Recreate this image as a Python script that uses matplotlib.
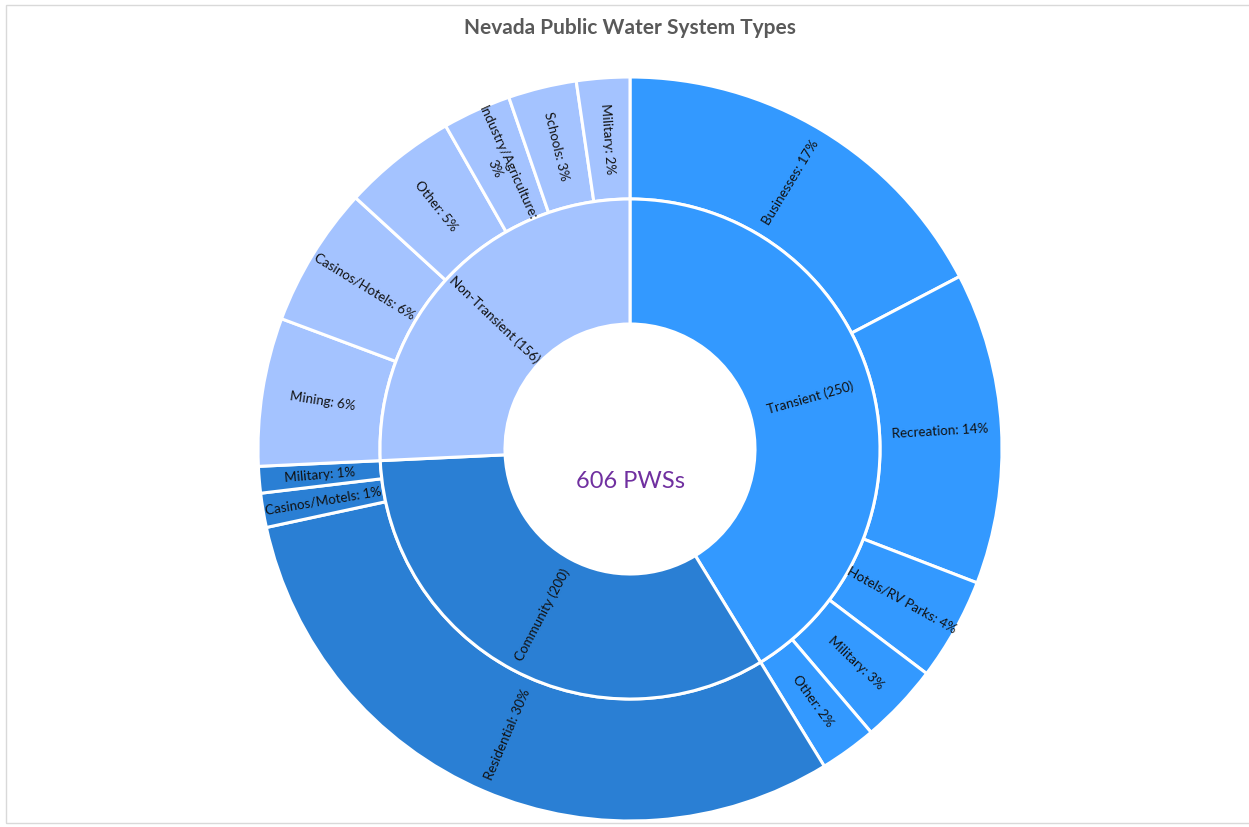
import matplotlib.pyplot as plt
import numpy as np
from matplotlib.patches import Rectangle

plt.rcParams['font.family'] = ['Lato', 'DejaVu Sans']

# Inner ring: system types
parent_names = ['Transient', 'Community', 'Non-Transient']
parent_counts = [250, 200, 156]
parent_colors = ['#3399FF', '#2A7FD4', '#A4C3FF']

# Outer ring: sub categories (clockwise from 12 o'clock)
child_names = [
    ['Businesses', 'Recreation', 'Hotels/RV Parks', 'Military', 'Other'],
    ['Residential', 'Casinos/Motels', 'Military'],
    ['Mining', 'Casinos/Hotels', 'Other', 'Industry/Agriculture', 'Schools', 'Military'],
]
child_counts = [
    [105, 82, 27, 21, 15],
    [184, 9, 7],
    [39, 37, 30, 18, 18, 14],
]

total = sum(parent_counts)


def radial_rotation(theta1, theta2):
    """ Text angle along the radius, kept readable """
    phi = ((theta1 + theta2) / 2.0) % 360
    if 90 < phi <= 270:
        return phi - 180, phi
    if phi > 270:
        return phi - 360, phi
    return phi, phi


def add_ring_labels(ax, wedges, labels, r, fontsize=9.6):
    for w, label in zip(wedges, labels):
        rot, phi = radial_rotation(w.theta1, w.theta2)
        x = r * np.cos(np.radians(phi))
        y = r * np.sin(np.radians(phi))
        ax.text(x, y, label, rotation=rot, rotation_mode='anchor',
                ha='center', va='center', multialignment='center',
                fontsize=fontsize, color='#111111')


fig = plt.figure(figsize=(12.49, 8.27), dpi=100)
fig.patch.set_facecolor('white')

# light frame around the chart area
fig.patches.append(Rectangle((6 / 1249, 1 - 823 / 827), 1.0, 818 / 827,
                             transform=fig.transFigure, fill=False,
                             edgecolor='#d9d9d9', linewidth=1))

R_OUT = 372.0
cx, cy = 630, 449
ax = fig.add_axes([(cx - R_OUT) / 1249, (827 - cy - R_OUT) / 827,
                   2 * R_OUT / 1249, 2 * R_OUT / 827])

r_mid = 250 / R_OUT
r_hole = 125 / R_OUT

flat_counts = [c for group in child_counts for c in group]
flat_colors = [parent_colors[i] for i, group in enumerate(child_counts) for _ in group]
flat_labels = []
for names, counts in zip(child_names, child_counts):
    for n, c in zip(names, counts):
        pct = round(100 * c / total)
        if n == 'Industry/Agriculture':
            flat_labels.append(f"{n}:\n{pct}%")
        else:
            flat_labels.append(f"{n}: {pct}%")

outer, _ = ax.pie(flat_counts, radius=1.0, startangle=90, counterclock=False,
                  colors=flat_colors,
                  wedgeprops=dict(width=1.0 - r_mid, edgecolor='white', linewidth=2.2))
inner, _ = ax.pie(parent_counts, radius=r_mid, startangle=90, counterclock=False,
                  colors=parent_colors,
                  wedgeprops=dict(width=r_mid - r_hole, edgecolor='white', linewidth=2.2))

add_ring_labels(ax, outer, flat_labels, (1.0 + r_mid) / 2)
add_ring_labels(ax, inner, [f"{n} ({c})" for n, c in zip(parent_names, parent_counts)],
                (r_mid + r_hole) / 2)

ax.text(0, -32 / R_OUT, f"{total} PWSs", ha='center', va='center',
        fontsize=17, color='#7030A0')

ax.set_xlim(-1, 1)
ax.set_ylim(-1, 1)
ax.set_aspect('equal')
ax.axis('off')

fig.text(630 / 1249, 1 - 28 / 827, 'Nevada Public Water System Types',
         ha='center', va='center', fontsize=15, fontweight='bold', color='#595959')

fig.savefig('out.png', dpi=100)
